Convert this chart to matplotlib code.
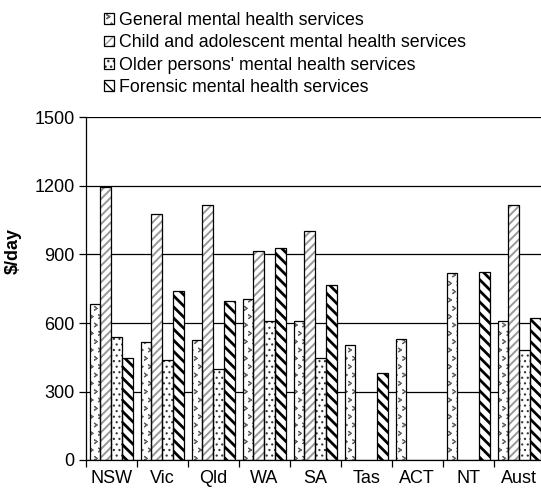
import numpy as np
import matplotlib
matplotlib.use("Agg")
import matplotlib.pyplot as plt
from matplotlib import hatch as mhatch
from matplotlib.path import Path
from matplotlib.patches import Patch
from matplotlib.legend_handler import HandlerTuple

plt.rcParams['font.family'] = ['Liberation Sans', 'DejaVu Sans']


# small ">" marks for the general services bars (takes the place of '*')
class Chevrons(mhatch.Shapes):
    size = 0.22
    filled = False

    def __init__(self, hatch, density):
        self.num_rows = hatch.count('*') * density
        self.shape_vertices = np.array([[-0.7, 1.0], [0.7, 0.0], [-0.7, -1.0]])
        self.shape_codes = np.array([Path.MOVETO, Path.LINETO, Path.LINETO],
                                    dtype=Path.code_type)
        super().__init__(hatch, density)


mhatch._hatch_types = [Chevrons if t is mhatch.Stars else t
                       for t in mhatch._hatch_types]

# Data
states = ['NSW', 'Vic', 'Qld', 'WA', 'SA', 'Tas', 'ACT', 'NT', 'Aust']
general = [682, 515, 527, 704, 607, 502, 528, 818, 607]
child = [1196, 1076, 1115, 915, 1002, np.nan, np.nan, np.nan, 1115]
older = [537, 438, 397, 607, 445, np.nan, np.nan, np.nan, 480]
forensic = [445, 740, 696, 927, 768, 383, np.nan, 822, 620]

series = [
    ('General mental health services', general, '**', '#666666', 0.8),
    ('Child and adolescent mental health services', child, '////', '#999999', 1.4),
    ("Older persons' mental health services", older, '...', '#333333', 0.8),
    ('Forensic mental health services', forensic, '\\\\\\', 'black', 2.0),
]

fig = plt.figure(figsize=(5.41, 4.97), dpi=100)
ax = fig.add_axes([85.7 / 541, 37 / 497, 459 / 541, 342.5 / 497])

x = np.arange(len(states))
w = 0.2125
handles = []
for k, (label, vals, hatch, hcol, hlw) in enumerate(series):
    pos = x + (k - 1.5) * w
    with plt.rc_context({'hatch.linewidth': hlw, 'hatch.color': hcol}):
        bars = ax.bar(pos, vals, w, facecolor='white', edgecolor=hcol,
                      hatch=hatch, linewidth=0, zorder=2)
        for b in bars:
            if hasattr(b, 'set_hatch_linewidth'):
                b.set_hatch_linewidth(hlw)
        ax.bar(pos, vals, w, fill=False, edgecolor='black', linewidth=0.9, zorder=3)
        hf = Patch(facecolor='white', edgecolor=hcol, hatch=hatch, linewidth=0)
        if hasattr(hf, 'set_hatch_linewidth'):
            hf.set_hatch_linewidth(hlw)
    he = Patch(fill=False, edgecolor='black', linewidth=0.9)
    handles.append(((hf, he), label))

ax.set_xlim(-0.5, len(states) - 0.5)
ax.set_ylim(0, 1500)
ax.set_yticks([0, 300, 600, 900, 1200, 1500])
ax.yaxis.grid(True, color='black', linewidth=0.9, zorder=0)
ax.set_axisbelow(True)

ax.set_xticks(x)
ax.set_xticklabels(states)
ax.set_xticks(np.arange(len(states) + 1) - 0.5, minor=True)
ax.tick_params(axis='x', which='major', length=0, pad=7, labelsize=13)
ax.tick_params(axis='x', which='minor', length=5, direction='out', width=0.9)
ax.tick_params(axis='y', length=5, direction='out', width=0.9, labelsize=13, pad=3)

for s in ['top', 'right']:
    ax.spines[s].set_visible(False)
for s in ['left', 'bottom']:
    ax.spines[s].set_linewidth(0.9)

ax.set_ylabel('\\$/day', fontsize=13, fontweight='bold')
ax.yaxis.set_label_coords(-0.139, 0.61)

fig.legend([h for h, _ in handles], [l for _, l in handles],
           handler_map={tuple: HandlerTuple(ndivide=1)},
           loc='upper left', bbox_to_anchor=(104 / 541, 1 - 12 / 497),
           frameon=False, fontsize=12.8, handlelength=0.56, handleheight=0.56,
           handletextpad=0.3, labelspacing=0.3, borderpad=0, borderaxespad=0)

fig.savefig('out.png', dpi=100)
